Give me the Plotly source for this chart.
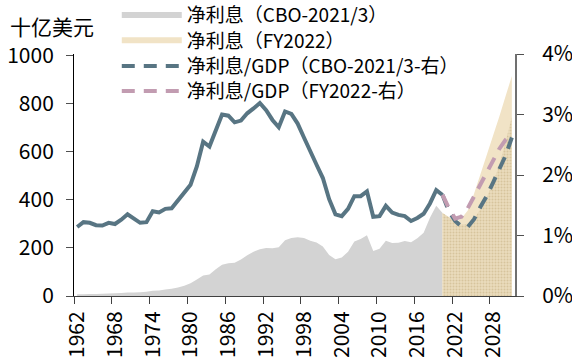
import plotly.graph_objects as go

# ---------------- data ----------------
hist_years = list(range(1962, 2021))
proj_years = list(range(2020, 2032))

# Net interest, CBO-2021/3 history ($bn, left axis)
cbo_hist_interest = [6.9, 7.7, 8.2, 8.6, 9.4, 10.3, 11.1, 12.7, 14.4, 14.8, 15.5, 17.3,
                     21.4, 23.2, 26.7, 29.9, 35.5, 42.6, 52.5, 68.8, 85.0, 89.8, 111.1,
                     129.5, 136.0, 138.6, 151.8, 169.0, 184.3, 194.4, 199.3, 198.7, 202.9,
                     232.1, 241.1, 244.0, 241.1, 229.8, 222.9, 206.2, 170.9, 153.1, 160.2,
                     184.0, 226.6, 237.1, 252.8, 186.9, 196.2, 230.0, 220.4, 220.9, 229.0,
                     223.2, 240.0, 262.6, 325.0, 375.2, 345.5]
# Net interest, CBO-2021/3 projection ($bn)
cbo_proj_interest = [345, 328, 311, 297, 300, 320, 362, 410, 470, 545, 640, 745]
# Net interest, FY2022 budget ($bn)
fy22_interest = [345, 318, 305, 322, 355, 425, 505, 585, 665, 745, 830, 915]

# Net interest / GDP (%; right axis)
cbo_hist_ratio = [1.14, 1.22, 1.21, 1.17, 1.165, 1.21, 1.19, 1.26, 1.35, 1.28, 1.21, 1.22,
                  1.40, 1.38, 1.44, 1.45, 1.58, 1.71, 1.84, 2.14, 2.55, 2.47, 2.75, 3.00,
                  2.98, 2.87, 2.90, 3.02, 3.10, 3.19, 3.07, 2.91, 2.79, 3.05, 3.01, 2.85,
                  2.62, 2.41, 2.17, 1.95, 1.60, 1.35, 1.32, 1.44, 1.65, 1.65, 1.73, 1.31,
                  1.32, 1.49, 1.38, 1.34, 1.32, 1.24, 1.29, 1.36, 1.53, 1.75, 1.67]
cbo_proj_ratio = [1.67, 1.40, 1.24, 1.15, 1.14, 1.27, 1.47, 1.65, 1.87, 2.08, 2.32, 2.62]
fy22_ratio = [1.67, 1.45, 1.28, 1.31, 1.45, 1.65, 1.85, 2.05, 2.25, 2.43, 2.58, 2.67]

tick_years = list(range(1962, 2032, 6))
tick_bounds = [y - 0.5 for y in tick_years]

names = ["净利息（CBO-2021/3）", "净利息（FY2022）",
         "净利息/GDP（CBO-2021/3-右）", "净利息/GDP（FY2022-右）"]

# ---------------- styling ----------------
FONT = "Noto Sans CJK SC"
GRAY = "#D3D3D3"
TAN = "#F1E3C6"
BLUE = "#587583"
PINK = "#C29CB1"
DASH = "13px,9px"

fig = go.Figure()

fig.add_trace(go.Scatter(x=hist_years, y=cbo_hist_interest, name=names[0],
                         mode="none", fill="tozeroy", fillcolor=GRAY, legend="legend"))
fig.add_trace(go.Scatter(x=proj_years, y=fy22_interest, name=names[1],
                         mode="none", fill="tozeroy", fillcolor=TAN, legend="legend2"))
fig.add_trace(go.Scatter(x=proj_years, y=cbo_proj_interest, name=names[0] + "预测",
                         mode="none", fill="tozeroy", showlegend=False,
                         fillpattern=dict(shape=".", fgcolor="#C4AC7C", bgcolor="#EADCBC",
                                          size=3, solidity=0.35)))
fig.add_trace(go.Scatter(x=hist_years, y=cbo_hist_ratio, yaxis="y2", mode="lines",
                         line=dict(color=BLUE, width=4), showlegend=False,
                         name=names[2]))
fig.add_trace(go.Scatter(x=proj_years, y=cbo_proj_ratio, yaxis="y2", mode="lines",
                         line=dict(color=BLUE, width=4, dash=DASH),
                         name=names[2], legend="legend3"))
fig.add_trace(go.Scatter(x=proj_years, y=fy22_ratio, yaxis="y2", mode="lines",
                         line=dict(color=PINK, width=4, dash=DASH),
                         name=names[3], legend="legend4"))

# invisible trace to activate the tick-mark axis
fig.add_trace(go.Scatter(x=[tick_years[0]], y=[0], xaxis="x2", mode="none",
                         showlegend=False, hoverinfo="skip"))

W, H = 572, 364
L, R, T, B = 74, 57, 54, 68


def leg(y):
    return dict(x=0.097, y=y, xanchor="left", yanchor="middle",
                bgcolor="rgba(0,0,0,0)", font=dict(size=19, family=FONT),
                itemwidth=60, borderwidth=0)


fig.update_layout(
    width=W, height=H,
    margin=dict(l=L, r=R, t=T, b=B, autoexpand=False),
    paper_bgcolor="white", plot_bgcolor="white",
    font=dict(family=FONT, size=21, color="black"),
    showlegend=True,
    legend=leg(1.161), legend2=leg(1.056), legend3=leg(0.950), legend4=leg(0.847),
    xaxis=dict(range=[1961.5, 2031.5], tickmode="array", tickvals=tick_years,
               ticktext=[str(y) for y in tick_years], tickangle=-90, ticks="",
               showline=True, linecolor="#404040", linewidth=1, showgrid=False,
               zeroline=False, tickfont=dict(size=21), ticklabelstandoff=6,
               automargin=False),
    xaxis2=dict(range=[1961.5, 2031.5], overlaying="x", side="bottom", anchor="y",
                tickmode="array", tickvals=tick_bounds, showticklabels=False,
                ticks="outside", ticklen=7, tickcolor="#404040", tickwidth=1,
                showline=False, showgrid=False, zeroline=False, automargin=False),
    yaxis=dict(range=[0, 1006], tickmode="array", tickvals=[0, 200, 400, 600, 800, 1000],
               ticks="outside", ticklen=7, tickcolor="#505050", showline=True,
               linecolor="black", linewidth=1, showgrid=False, zeroline=False,
               tickfont=dict(size=21), ticklabelstandoff=8, automargin=False),
    yaxis2=dict(range=[0, 4], overlaying="y", side="right", anchor="x",
                tickmode="array", tickvals=[0, 1, 2, 3, 4],
                ticktext=["0%", "1%", "2%", "3%", "4%"],
                ticks="outside", ticklen=7, tickcolor="#505050", showline=True,
                linecolor="#707070", linewidth=2, showgrid=False, zeroline=False,
                tickfont=dict(size=21), ticklabelstandoff=14, automargin=False),
    annotations=[dict(text="十亿美元", xref="paper", yref="paper",
                      x=-0.05, y=1.116, xanchor="center", yanchor="middle",
                      showarrow=False, borderpad=0, font=dict(size=21, family=FONT))],
)

fig.write_html("out.html", config={"displayModeBar": False},
               post_script="document.body.style.margin='0px';document.body.style.padding='0px';")
